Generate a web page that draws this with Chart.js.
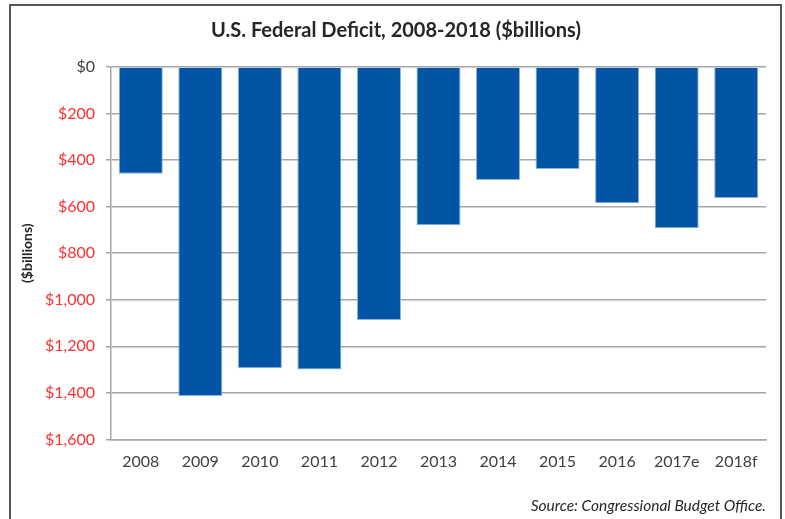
<!DOCTYPE html>
<html>
<head>
<meta charset="utf-8">
<script src="https://cdn.jsdelivr.net/npm/chart.js@4/dist/chart.umd.min.js"></script>
<style>
    html, body { margin: 0; padding: 0; background: #fff; overflow: hidden; }
    #wrap { position: relative; width: 785px; height: 519px; }
    #frame { position: absolute; left: 9px; top: 4px; width: 773px; height: 560px; border: 2px solid #555; box-sizing: border-box; pointer-events: none; }
</style>
</head>
<body>
<div id="wrap">
    <canvas id="deficitChart" width="785" height="519"></canvas>
    <div id="frame"></div>
</div>
<script>
// Defisit federal AS, miliar dolar
const tahun = ['2008', '2009', '2010', '2011', '2012', '2013', '2014', '2015', '2016', '2017e', '2018f'];
const defisit = [459, 1413, 1294, 1300, 1087, 680, 485, 438, 585, 693, 563];
const tickNilai = [0, 200, 400, 600, 800, 1000, 1200, 1400, 1600];

const fontUtama = 'Lato, "Open Sans", sans-serif';

const ctx = document.getElementById('deficitChart').getContext('2d');
const chart = new Chart(ctx, {
    type: 'bar',
    data: {
        labels: tahun,
        datasets: [{
            data: defisit,
            backgroundColor: '#0254a5',
            borderColor: '#8fb3dc',
            borderWidth: 1,
            barPercentage: 0.74,
            categoryPercentage: 1.0
        }]
    },
    options: {
        responsive: false,
        animation: false,
        layout: {
            // kiri 26 supaya judul agak ke kanan, area plot tetap mulai di x=111
            padding: { left: 26, right: 19, top: 0, bottom: 0 }
        },
        plugins: {
            legend: { display: false },
            tooltip: { enabled: false },
            title: {
                display: true,
                text: 'U.S. Federal Deficit, 2008-2018 ($billions)',
                color: '#262626',
                font: { family: fontUtama, size: 20, weight: 'bold' },
                padding: { top: 19, bottom: 24 }
            },
            subtitle: {
                display: true,
                position: 'bottom',
                align: 'end',
                text: 'Source: Congressional Budget Office.',
                color: '#262626',
                font: { family: fontUtama, size: 15.5, style: 'italic' },
                padding: { top: 25, bottom: 4 }
            }
        },
        scales: {
            x: {
                grid: { display: false, drawTicks: false },
                border: { display: true, color: '#a6a6a6', width: 1.5 },
                ticks: {
                    color: '#404040',
                    font: { family: fontUtama, size: 16 },
                    padding: 13,
                    maxRotation: 0
                },
                afterFit: (scale) => { scale.height = 32; }
            },
            y: {
                reverse: true,
                min: 0,
                max: 1600,
                afterBuildTicks: (scale) => {
                    scale.ticks = tickNilai.map(v => ({ value: v }));
                },
                afterFit: (scale) => { scale.width = 85; },
                grid: {
                    color: '#a6a6a6',
                    lineWidth: 1.5,
                    tickLength: 5
                },
                border: { display: true, color: '#a6a6a6', width: 1.5 },
                ticks: {
                    padding: 11,
                    font: { family: fontUtama, size: 16 },
                    color: (c) => c.tick && c.tick.value === 0 ? '#404040' : '#ff3030',
                    callback: (v) => '$' + Number(v).toLocaleString('en-US')
                },
                title: {
                    display: true,
                    text: '($billions)',
                    color: '#262626',
                    font: { family: fontUtama, size: 14, weight: 'bold' },
                    padding: { top: -7, bottom: 0 }
                }
            }
        }
    }
});
</script>
</body>
</html>
